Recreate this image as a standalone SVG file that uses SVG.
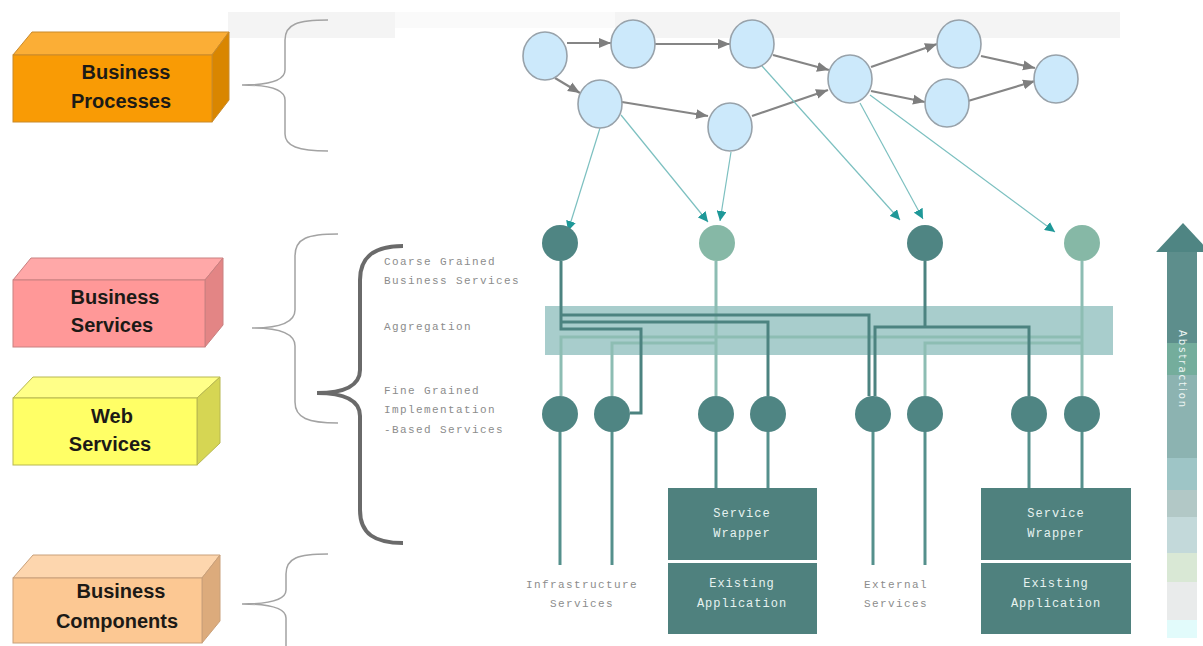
<svg xmlns="http://www.w3.org/2000/svg" width="1203" height="646" viewBox="0 0 1203 646">
  <style>
    .layer-title { font-family: "Liberation Sans", Arial, sans-serif; font-size: 20px; font-weight: bold; fill: #1c1a16; text-anchor: middle; }
    .brace { fill: none; stroke: #a3a3a3; stroke-width: 1.5; }
    .brace-bold { fill: none; stroke: #6a6a6a; stroke-width: 4; }
    .proc { fill: #cce9fb; stroke: #98a2aa; stroke-width: 1.6; }
    .flow { fill: none; stroke: #858585; stroke-width: 2.2; }
    .map { fill: none; stroke: #7cc0c0; stroke-width: 1.2; }
    .svc-dark { fill: #4f8583; }
    .svc-light { fill: #86b8a6; }
    .wire-dark { fill: none; stroke: #4c8380; stroke-width: 3; }
    .wire-light { fill: none; stroke: #8dbdb3; stroke-width: 3; }
    .leg { fill: none; stroke: #55908c; stroke-width: 3; }
    .mono { font-family: "Liberation Mono", "DejaVu Sans Mono", monospace; font-size: 11px; letter-spacing: 1.4px; fill: #8c8c8c; }
    .mono-c { font-family: "Liberation Mono", "DejaVu Sans Mono", monospace; font-size: 11px; letter-spacing: 1.4px; fill: #8c8c8c; text-anchor: middle; }
    .box { fill: #4f817e; }
    .box-text { font-family: "Liberation Mono", "DejaVu Sans Mono", monospace; font-size: 12px; letter-spacing: 1px; fill: #e6f2f0; text-anchor: middle; }
  </style>
  <defs>
    <marker id="arrow-gray" markerUnits="userSpaceOnUse" markerWidth="14" markerHeight="12" refX="12" refY="6" orient="auto">
      <path d="M0,1 L12,6 L0,11 Z" fill="#7e7e7e"/>
    </marker>
    <marker id="arrow-teal" markerUnits="userSpaceOnUse" markerWidth="12" markerHeight="10" refX="10" refY="5" orient="auto">
      <path d="M0,0 L10,5 L0,10 Z" fill="#1e9898"/>
    </marker>
  </defs>

  <rect width="1203" height="646" fill="#ffffff"/>

  <!-- faint header strips -->
  <rect x="228" y="12" width="167" height="26" fill="#f4f4f4"/>
  <rect x="395" y="12" width="220" height="16" fill="#fafafa"/>
  <rect x="615" y="12" width="505" height="26" fill="#f4f4f4"/>

  <!-- layer blocks -->
  <g id="business-processes">
    <polygon points="13,55 32,32 229,32 212,55" fill="#fbae36" stroke="#c98a2a" stroke-width="1"/>
    <polygon points="212,55 229,32 229,100 212,122" fill="#d98600" stroke="#c98a2a" stroke-width="1"/>
    <rect x="13" y="55" width="199" height="67" fill="#f99b05" stroke="#c98a2a" stroke-width="1"/>
    <text class="layer-title" x="126" y="79">Business</text>
    <text class="layer-title" x="121" y="108">Processes</text>
  </g>
  <g id="business-services">
    <polygon points="13,280 31,258 223,258 205,280" fill="#ffa8a8" stroke="#c98080" stroke-width="1"/>
    <polygon points="205,280 223,258 223,325 205,347" fill="#e38585" stroke="#c98080" stroke-width="1"/>
    <rect x="13" y="280" width="192" height="67" fill="#ff9898" stroke="#c98080" stroke-width="1"/>
    <text class="layer-title" x="115" y="304">Business</text>
    <text class="layer-title" x="112" y="332">Services</text>
  </g>
  <g id="web-services">
    <polygon points="13,398 33,377 220,377 197,398" fill="#ffff88" stroke="#b8b850" stroke-width="1"/>
    <polygon points="197,398 220,377 220,443 197,465" fill="#d6d653" stroke="#b8b850" stroke-width="1"/>
    <rect x="13" y="398" width="184" height="67" fill="#ffff66" stroke="#b8b850" stroke-width="1"/>
    <text class="layer-title" x="112" y="423">Web</text>
    <text class="layer-title" x="110" y="451">Services</text>
  </g>
  <g id="business-components">
    <polygon points="13,578 33,555 220,555 202,578" fill="#fdd6ae" stroke="#c9a07a" stroke-width="1"/>
    <polygon points="202,578 220,555 220,621 202,643" fill="#dcab7c" stroke="#c9a07a" stroke-width="1"/>
    <rect x="13" y="578" width="189" height="65" fill="#fcc893" stroke="#c9a07a" stroke-width="1"/>
    <text class="layer-title" x="121" y="598">Business</text>
    <text class="layer-title" x="117" y="628">Components</text>
  </g>

  <!-- braces -->
  <g id="braces">
    <path class="brace" d="M328,20 C298,20 285,24 285,40 V70 C285,80 272,85 242,85 C272,85 285,90 285,100 V134 C285,146 298,151 328,151"/>
    <path class="brace" d="M338,234 C308,234 295,238 295,256 V310 C295,322 282,328 252,328 C282,328 295,334 295,346 V402 C295,418 308,423 338,423"/>
    <path class="brace-bold" d="M403,246 C375,246 360,256 360,280 V370 C360,385 345,393 317,393 C345,393 360,401 360,416 V510 C360,534 375,543 403,543"/>
    <path class="brace" d="M328,554 C298,554 286,558 286,574 V590 C286,599 272,604 242,604 C272,604 286,609 286,618 V646"/>
  </g>

  <!-- level captions -->
  <g id="captions">
    <text class="mono" x="384" y="265">Coarse Grained</text>
    <text class="mono" x="384" y="284">Business Services</text>
    <text class="mono" x="384" y="330">Aggregation</text>
    <text class="mono" x="384" y="394">Fine Grained</text>
    <text class="mono" x="384" y="413">Implementation</text>
    <text class="mono" x="384" y="433">-Based Services</text>
    <text class="mono-c" x="582" y="588">Infrastructure</text>
    <text class="mono-c" x="582" y="607">Services</text>
    <text class="mono-c" x="896" y="588">External</text>
    <text class="mono-c" x="896" y="607">Services</text>
  </g>

  <!-- aggregation band -->
  <rect id="aggregation-band" x="545" y="306" width="568" height="49" fill="#a8cdcc"/>

  <!-- connectors -->
  <g id="connectors">
    <!-- process flow -->
    <path class="flow" d="M567,43 L611,43" marker-end="url(#arrow-gray)"/>
    <path class="flow" d="M655,44 L730,44" marker-end="url(#arrow-gray)"/>
    <path class="flow" d="M555,78 L580,93" marker-end="url(#arrow-gray)"/>
    <path class="flow" d="M622,102 L708,116" marker-end="url(#arrow-gray)"/>
    <path class="flow" d="M773,55 L829,70" marker-end="url(#arrow-gray)"/>
    <path class="flow" d="M752,116 L828,90" marker-end="url(#arrow-gray)"/>
    <path class="flow" d="M871,67 L937,44" marker-end="url(#arrow-gray)"/>
    <path class="flow" d="M871,91 L925,102" marker-end="url(#arrow-gray)"/>
    <path class="flow" d="M981,56 L1035,68" marker-end="url(#arrow-gray)"/>
    <path class="flow" d="M968,101 L1035,81" marker-end="url(#arrow-gray)"/>

    <!-- process steps mapped onto business services -->
    <path class="map" d="M600,128 L568,231" marker-end="url(#arrow-teal)"/>
    <path class="map" d="M621,115 L708,222" marker-end="url(#arrow-teal)"/>
    <path class="map" d="M731,152 L720,221" marker-end="url(#arrow-teal)"/>
    <path class="map" d="M762,66 L900,220" marker-end="url(#arrow-teal)"/>
    <path class="map" d="M860,103 L923,219" marker-end="url(#arrow-teal)"/>
    <path class="map" d="M870,95 L1055,232" marker-end="url(#arrow-teal)"/>

    <!-- aggregation wiring -->
    <path class="wire-light" d="M716,261 V396"/>
    <path class="wire-light" d="M716,343 H612 V396"/>
    <path class="wire-light" d="M1082,261 V396"/>
    <path class="wire-light" d="M1082,337 H561 V396"/>
    <path class="wire-light" d="M1082,343 H925 V396"/>
    <path class="wire-dark" d="M561,261 V329 H641 V413 H630"/>
    <path class="wire-dark" d="M561,315 H869 V396"/>
    <path class="wire-dark" d="M561,322 H768 V396"/>
    <path class="wire-dark" d="M925,261 V327"/>
    <path class="wire-dark" d="M875,396 V327 H1029 V396"/>

    <!-- legs below fine grained services -->
    <path class="leg" d="M560,431 V565"/>
    <path class="leg" d="M612,431 V565"/>
    <path class="leg" d="M716,431 V488"/>
    <path class="leg" d="M768,431 V488"/>
    <path class="leg" d="M873,431 V565"/>
    <path class="leg" d="M925,431 V565"/>
    <path class="leg" d="M1029,431 V488"/>
    <path class="leg" d="M1082,431 V488"/>
  </g>

  <!-- business process steps -->
  <g id="process-steps">
    <ellipse id="step-a" class="proc" cx="545" cy="56" rx="22" ry="24"/>
    <ellipse id="step-b" class="proc" cx="633" cy="44" rx="22" ry="24"/>
    <ellipse id="step-c" class="proc" cx="752" cy="44" rx="22" ry="24"/>
    <ellipse id="step-d" class="proc" cx="600" cy="104" rx="22" ry="24"/>
    <ellipse id="step-e" class="proc" cx="730" cy="127" rx="22" ry="24"/>
    <ellipse id="step-f" class="proc" cx="850" cy="79" rx="22" ry="24"/>
    <ellipse id="step-g" class="proc" cx="959" cy="44" rx="22" ry="24"/>
    <ellipse id="step-h" class="proc" cx="947" cy="103" rx="22" ry="24"/>
    <ellipse id="step-i" class="proc" cx="1056" cy="79" rx="22" ry="24"/>
  </g>

  <!-- coarse grained business services -->
  <g id="coarse-services">
    <circle id="coarse-1" class="svc-dark" cx="560" cy="243" r="18"/>
    <circle id="coarse-2" class="svc-light" cx="717" cy="243" r="18"/>
    <circle id="coarse-3" class="svc-dark" cx="925" cy="243" r="18"/>
    <circle id="coarse-4" class="svc-light" cx="1082" cy="243" r="18"/>
  </g>

  <!-- fine grained implementation services -->
  <g id="fine-services">
    <circle id="fine-1" class="svc-dark" cx="560" cy="414" r="18"/>
    <circle id="fine-2" class="svc-dark" cx="612" cy="414" r="18"/>
    <circle id="fine-3" class="svc-dark" cx="716" cy="414" r="18"/>
    <circle id="fine-4" class="svc-dark" cx="768" cy="414" r="18"/>
    <circle id="fine-5" class="svc-dark" cx="873" cy="414" r="18"/>
    <circle id="fine-6" class="svc-dark" cx="925" cy="414" r="18"/>
    <circle id="fine-7" class="svc-dark" cx="1029" cy="414" r="18"/>
    <circle id="fine-8" class="svc-dark" cx="1082" cy="414" r="18"/>
  </g>

  <!-- wrapped applications -->
  <g id="wrapper-left">
    <rect class="box" x="668" y="488" width="149" height="72"/>
    <rect class="box" x="668" y="563" width="149" height="71"/>
    <text class="box-text" x="742" y="517">Service</text>
    <text class="box-text" x="742" y="537">Wrapper</text>
    <text class="box-text" x="742" y="587">Existing</text>
    <text class="box-text" x="742" y="607">Application</text>
  </g>
  <g id="wrapper-right">
    <rect class="box" x="981" y="488" width="150" height="72"/>
    <rect class="box" x="981" y="563" width="150" height="71"/>
    <text class="box-text" x="1056" y="517">Service</text>
    <text class="box-text" x="1056" y="537">Wrapper</text>
    <text class="box-text" x="1056" y="587">Existing</text>
    <text class="box-text" x="1056" y="607">Application</text>
  </g>

  <!-- abstraction scale -->
  <g id="abstraction">
    <polygon points="1183,223 1156,252 1210,252" fill="#4f8583"/>
    <rect x="1167" y="252" width="30" height="91" fill="#5d8e8c"/>
    <rect x="1167" y="343" width="30" height="32" fill="#74ad9c"/>
    <rect x="1167" y="375" width="30" height="83" fill="#8cb3b1"/>
    <rect x="1167" y="458" width="30" height="32" fill="#9ec5c6"/>
    <rect x="1167" y="490" width="30" height="27" fill="#b2c8c6"/>
    <rect x="1167" y="517" width="30" height="36" fill="#c3d9da"/>
    <rect x="1167" y="553" width="30" height="29" fill="#d9e8d5"/>
    <rect x="1167" y="582" width="30" height="38" fill="#e9ebeb"/>
    <rect x="1167" y="620" width="30" height="18" fill="#e2fbfb"/>
    <text transform="translate(1179,330) rotate(90)" font-family="'DejaVu Sans', sans-serif" font-size="10" letter-spacing="2" fill="#eef6f4">Abstraction</text>
  </g>
</svg>
